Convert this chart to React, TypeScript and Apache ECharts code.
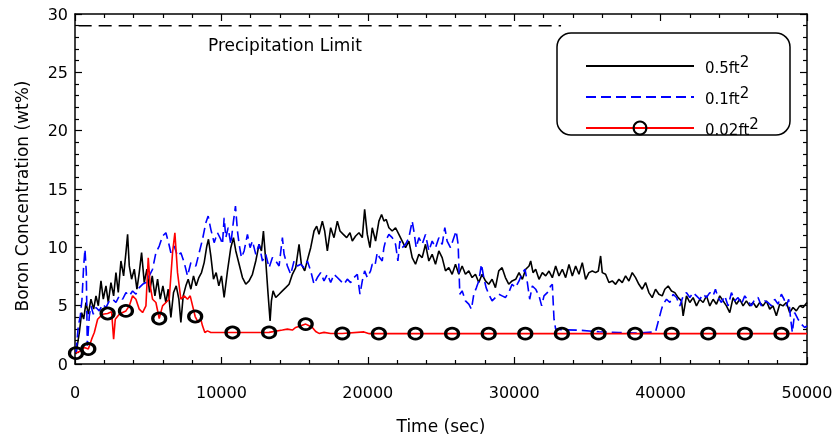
import { useEffect, useRef } from "react";
import * as echarts from "echarts";

// 0.5 ft^2 break — boron concentration (wt%) vs time (s)
const black05: [number, number][] = [
  [68,0.85],[296,2.7],[455,4.4],[591,3.85],[750,5.27],[910,4.27],[1091,5.56],[1273,4.7],[1433,5.84],[1592,4.99],
  [1774,7.12],[1933,5.56],[2115,6.7],[2274,5.27],[2456,6.98],[2638,5.84],[2797,7.84],[2956,6.13],[3138,8.83],[3320,7.55],
  [3479,9.55],[3593,11.11],[3707,8.41],[3866,7.27],[4048,8.13],[4230,6.41],[4389,7.84],[4548,9.55],[4730,6.98],[4912,8.13],
  [5094,6.13],[5276,7.55],[5458,5.84],[5640,7.27],[5821,5.56],[6003,6.7],[6208,5.27],[6367,6.41],[6549,4.0],[6731,6.13],
  [6913,6.7],[7095,5.56],[7231,3.56],[7390,5.84],[7572,6.7],[7732,7.27],[7914,6.41],[8095,7.55],[8277,6.7],[8459,7.41],
  [8641,7.84],[8823,8.69],[9005,10.12],[9118,10.69],[9278,9.27],[9460,7.27],[9642,7.84],[9824,6.7],[10006,7.55],[10187,5.7],
  [10415,7.98],[10642,9.97],[10824,10.83],[10983,9.69],[11211,8.55],[11438,7.41],[11666,6.84],[11893,7.12],[12120,7.69],[12348,8.83],
  [12575,10.26],[12734,9.69],[12871,11.4],[13030,8.83],[13189,5.98],[13326,3.7],[13416,5.41],[13530,6.27],[13712,5.7],[13940,5.98],
  [14167,6.27],[14394,6.55],[14622,6.84],[14849,7.69],[15077,8.26],[15304,10.26],[15463,8.55],[15690,7.98],[15918,9.12],[16100,9.97],
  [16327,11.4],[16509,11.82],[16668,11.11],[16895,12.25],[17055,11.4],[17237,9.69],[17464,11.68],[17692,10.83],[17919,12.25],[18101,11.4],
  [18328,11.11],[18556,10.83],[18783,11.25],[18942,10.54],[19170,10.97],[19397,11.25],[19624,10.83],[19784,13.25],[19966,11.11],[20148,9.97],
  [20304,11.68],[20531,10.54],[20759,12.25],[20941,12.82],[21100,12.25],[21259,12.39],[21441,11.68],[21668,11.4],[21896,11.68],[22123,11.11],
  [22350,10.54],[22578,9.97],[22805,10.54],[23033,9.12],[23260,8.55],[23488,9.4],[23715,9.12],[23942,10.26],[24170,8.83],[24397,9.4],
  [24625,8.55],[24852,9.69],[25079,9.12],[25307,7.98],[25534,8.26],[25762,7.69],[25989,8.55],[26216,7.69],[26444,8.4],[26671,7.69],
  [26899,7.98],[27126,7.41],[27353,7.69],[27581,6.98],[27808,7.69],[28036,7.12],[28263,6.84],[28490,7.27],[28718,6.55],[28945,7.98],
  [29173,8.26],[29400,7.41],[29627,6.84],[29855,7.12],[30103,7.26],[30331,7.83],[30558,7.26],[30786,8.12],[31013,8.4],[31127,8.83],
  [31286,7.83],[31468,8.12],[31695,7.26],[31923,7.83],[32150,7.55],[32377,7.97],[32605,7.4],[32832,8.4],[33060,7.55],[33287,8.12],
  [33514,7.4],[33742,8.54],[33969,7.55],[34197,8.4],[34424,7.69],[34651,8.69],[34879,7.26],[35106,7.83],[35334,7.97],[35561,7.83],
  [35743,7.97],[35902,9.26],[36016,7.83],[36243,7.69],[36471,6.98],[36698,7.12],[36926,6.83],[37153,7.26],[37380,6.98],[37608,7.55],
  [37835,7.12],[38063,7.83],[38290,7.4],[38517,6.83],[38745,6.41],[38972,6.98],[39199,6.12],[39427,5.69],[39654,6.41],[39882,5.98],
  [40109,5.84],[40290,6.41],[40517,6.69],[40745,6.26],[40972,6.12],[41199,5.69],[41427,5.41],[41541,4.13],[41768,5.84],[41995,5.27],
  [42223,5.69],[42450,4.98],[42678,5.55],[42905,5.27],[43132,5.84],[43360,4.98],[43587,5.55],[43815,5.12],[44042,5.84],[44269,5.41],
  [44497,4.98],[44724,4.41],[44952,5.69],[45179,5.12],[45406,5.55],[45634,4.98],[45861,5.41],[46089,4.98],[46316,5.27],[46543,4.84],
  [46771,5.27],[46998,4.98],[47226,5.41],[47453,4.7],[47680,4.98],[47908,4.13],[48135,5.12],[48363,4.98],[48590,5.27],[48817,4.41],
  [49045,4.84],[49272,4.55],[49500,4.98],[49727,4.84],[50000,5.27]
];

// 0.1 ft^2 break
const blue01: [number, number][] = [
  [68,0.99],[227,3.27],[364,4.13],[477,5.55],[591,8.4],[682,9.83],[773,7.83],[841,1.56],[978,4.13],[1091,4.98],
  [1250,4.27],[1433,4.84],[1660,4.55],[1887,5.12],[2115,4.84],[2342,5.41],[2570,5.55],[2797,5.27],[3024,5.84],[3252,5.55],
  [3479,6.12],[3707,5.84],[3934,6.26],[4161,5.98],[4389,6.55],[4616,6.83],[4844,6.98],[5071,7.55],[5298,8.12],[5526,9.54],
  [5753,10.11],[5981,10.97],[6208,11.25],[6390,10.4],[6549,9.54],[6776,10.11],[7004,9.26],[7231,9.54],[7459,8.69],[7686,7.55],
  [7914,8.69],[8254,8.4],[8482,9.54],[8709,10.68],[8937,12.1],[9096,12.68],[9278,11.54],[9505,10.4],[9733,11.25],[9960,10.68],
  [10074,10.26],[10187,12.54],[10301,10.83],[10460,11.68],[10642,10.26],[10824,12.25],[10961,13.53],[11097,11.4],[11211,10.26],[11370,9.12],
  [11552,9.69],[11779,11.11],[11961,9.97],[12120,10.54],[12348,9.4],[12575,10.26],[12803,8.83],[13030,9.4],[13257,8.26],[13485,9.12],
  [13712,8.83],[13940,8.4],[14167,10.83],[14281,9.4],[14508,8.4],[14735,7.69],[14963,8.83],[15190,8.4],[15418,8.55],[15645,8.26],
  [15872,8.83],[16100,7.98],[16327,6.84],[16555,7.41],[16782,7.83],[17009,7.12],[17237,7.69],[17464,6.98],[17692,7.69],[17919,7.41],
  [18146,7.12],[18374,6.84],[18601,7.27],[18829,6.98],[19056,7.41],[19283,7.69],[19465,5.98],[19624,7.12],[19784,7.98],[19966,7.41],
  [20190,7.98],[20304,8.55],[20486,8.4],[20645,9.54],[20804,9.12],[20986,8.83],[21100,9.97],[21213,10.54],[21441,11.11],[21668,10.83],
  [21896,10.26],[22055,8.83],[22191,10.54],[22350,9.97],[22578,10.26],[22805,10.83],[23033,12.25],[23146,11.4],[23306,9.97],[23488,10.83],
  [23715,10.26],[23942,11.11],[24170,9.69],[24397,10.54],[24625,9.97],[24852,10.83],[25079,10.26],[25261,11.68],[25420,10.54],[25648,9.97],
  [25876,10.83],[26035,11.4],[26171,10.26],[26285,5.98],[26444,6.27],[26671,5.41],[26899,5.13],[27081,4.7],[27240,5.98],[27422,6.55],
  [27581,7.12],[27763,8.55],[27922,7.41],[28081,6.55],[28263,5.98],[28490,5.41],[28718,5.7],[28945,5.98],[29173,5.84],[29400,5.7],
  [29627,6.13],[29855,6.84],[30082,6.55],[30331,7.12],[30558,7.83],[30740,8.12],[30899,6.98],[31058,5.55],[31240,6.69],[31468,6.41],
  [31695,5.84],[31877,4.98],[32035,5.84],[32263,6.12],[32490,6.69],[32605,6.83],[32719,3.84],[32832,2.99],[33287,2.93],[34424,2.9],
  [35788,2.76],[37153,2.7],[38517,2.65],[39654,2.76],[39882,3.84],[40064,4.7],[40176,5.13],[40404,5.55],[40631,5.27],[40858,5.98],
  [41086,5.7],[41313,4.98],[41541,5.84],[41768,6.12],[41995,5.7],[42223,6.12],[42450,5.84],[42678,5.55],[42905,5.98],[43132,5.7],
  [43360,6.12],[43587,5.84],[43746,6.41],[43928,5.7],[44156,5.27],[44383,5.84],[44611,4.98],[44838,6.12],[45065,5.41],[45293,5.7],
  [45520,5.13],[45748,5.84],[45975,5.41],[46202,4.98],[46430,5.55],[46657,5.7],[46885,4.98],[47112,5.41],[47339,5.27],[47567,4.98],
  [47794,5.55],[48021,5.13],[48249,5.98],[48431,5.55],[48590,4.98],[48749,5.55],[48885,3.84],[48999,2.7],[49158,4.41],[49386,3.84],
  [49613,3.42],[49840,3.13],[50000,3.27]
];

// 0.02 ft^2 break
const red002: [number, number][] = [
  [68,0.93],[409,1.13],[637,1.42],[910,1.28],[1137,2.13],[1319,2.7],[1546,3.84],[1887,4.27],[2228,4.33],[2501,4.47],
  [2638,2.13],[2751,3.84],[3024,4.27],[3252,4.41],[3479,4.55],[3707,4.98],[3934,5.84],[4161,5.55],[4389,4.7],[4616,4.41],
  [4844,4.98],[5003,9.11],[5139,6.69],[5298,5.55],[5526,5.27],[5753,3.9],[5981,4.98],[6208,5.27],[6435,5.55],[6663,9.54],
  [6822,11.25],[7004,7.83],[7231,5.55],[7459,5.84],[7686,5.55],[7868,5.84],[8209,4.07],[8414,3.56],[8595,3.84],[8709,3.27],
  [8868,2.7],[9050,2.84],[9278,2.7],[10756,2.7],[12000,2.7],[13257,2.71],[14167,2.91],[14508,2.99],[14849,2.91],[15077,3.13],
  [15418,3.28],[15758,3.42],[15986,3.28],[16213,3.13],[16441,2.79],[16668,2.62],[17009,2.71],[17464,2.62],[18258,2.62],[19738,2.75],
  [20100,2.6],[20758,2.6],[23258,2.6],[25758,2.6],[28258,2.6],[30758,2.6],[33258,2.6],[35758,2.6],[38258,2.6],[40758,2.6],
  [43258,2.6],[45758,2.6],[48258,2.6],[50000,2.6]
];
const red002Markers: number[] = [
  68, 910, 2228, 3479, 5753, 8209, 10756, 13257, 15758, 18258, 20758, 23258, 25758, 28258,
  30758, 33258, 35758, 38258, 40758, 43258, 45758, 48258
];

const seriesNames = ["0.5ft²", "0.1ft²", "0.02ft²"];
const precipitationLimit = 29;
const limitSpan: [number, number] = [250, 33200];
const limitLabel = "Precipitation Limit";
const xTitle = "Time (sec)";
const yTitle = "Boron Concentration (wt%)";

const FONT = "DejaVu Sans";

export default function App() {
  const ref = useRef<HTMLDivElement>(null);
  useEffect(() => {
    if (!ref.current) return;
    const chart = echarts.init(ref.current, undefined, { renderer: "svg" });
    const axisLine = { onZero: false, lineStyle: { color: "#000", width: 1.5 } };
    const tick = { inside: true, length: 7, lineStyle: { color: "#000", width: 1.2 } };
    const minor = { show: true, splitNumber: 5, length: 4, lineStyle: { color: "#000", width: 1.2 } };
    const redData = red002.map(([t, v]) => ({
      value: [t, v],
      symbol: red002Markers.includes(t) ? "circle" : "none",
    }));
    chart.setOption({
      animation: false,
      grid: { left: 75, right: 30, top: 14, bottom: 74 },
      xAxis: [
        {
          type: "value", min: 0, max: 50000, interval: 10000, position: "bottom",
          axisLine, axisTick: tick, minorTick: minor, splitLine: { show: false },
          axisLabel: { margin: 20, fontSize: 16, fontFamily: FONT, color: "#000", formatter: (v: number) => String(v) },
          name: xTitle, nameLocation: "middle", nameGap: 53,
          nameTextStyle: { fontSize: 17, fontFamily: FONT, color: "#000" },
        },
        {
          type: "value", min: 0, max: 50000, interval: 10000, position: "top",
          axisLine, axisTick: tick, minorTick: minor, splitLine: { show: false },
          axisLabel: { show: false },
        },
      ],
      yAxis: [
        {
          type: "value", min: 0, max: 30, interval: 5, position: "left",
          axisLine, axisTick: tick, minorTick: minor, splitLine: { show: false },
          axisLabel: { margin: 7, fontSize: 16, fontFamily: FONT, color: "#000" },
        },
        {
          type: "value", min: 0, max: 30, interval: 5, position: "right",
          axisLine, axisTick: tick, minorTick: minor, splitLine: { show: false },
          axisLabel: { show: false },
        },
      ],
      legend: {
        data: [
          { name: seriesNames[0], itemStyle: { opacity: 0 } },
          { name: seriesNames[1], itemStyle: { opacity: 0 } },
          { name: seriesNames[2] },
        ],
        orient: "vertical",
        left: 585,
        top: 54,
        padding: 0,
        itemWidth: 108,
        itemHeight: 16,
        itemGap: 10,
        selectedMode: false,
        z: 10,
        formatter: (n: string) => n.replace("²", "{s|2}"),
        textStyle: {
          fontFamily: FONT, fontSize: 15, color: "#000", padding: [3, 0, 0, 6],
          rich: { s: { fontFamily: FONT, fontSize: 15, color: "#000", padding: [0, 0, 12, 0] } },
        },
      },
      graphic: [
        {
          type: "rect", z: 5,
          shape: { x: 557, y: 33, width: 233, height: 102, r: 14 },
          style: { fill: "#fff", stroke: "#000", lineWidth: 1.5 },
        },
        {
          type: "text", x: 208, y: 45, z: 5,
          style: { text: limitLabel, font: `17px "${FONT}"`, fill: "#000", align: "left", verticalAlign: "middle" },
        },
        {
          type: "text", x: 22, y: 196, rotation: Math.PI / 2, z: 5,
          style: { text: yTitle, font: `17px "${FONT}"`, fill: "#000", align: "center", verticalAlign: "middle" },
        },
      ],
      series: [
        {
          name: seriesNames[0], type: "line", data: black05, symbol: "none",
          lineStyle: { color: "#000", width: 1.6 }, itemStyle: { color: "#000" },
        },
        {
          name: seriesNames[1], type: "line", data: blue01, symbol: "none",
          lineStyle: { color: "#0000ff", width: 1.6, type: [10, 5] }, itemStyle: { color: "#0000ff" },
        },
        {
          name: seriesNames[2], type: "line", data: redData, symbol: "circle", symbolSize: [13, 11],
          showSymbol: true, showAllSymbol: true,
          lineStyle: { color: "#ff0000", width: 1.6 },
          itemStyle: { color: "rgba(255,255,255,0)", borderColor: "#000", borderWidth: 3 },
        },
        {
          name: "limit", type: "line", silent: true, symbol: "none",
          data: [[limitSpan[0], precipitationLimit], [limitSpan[1], precipitationLimit]],
          lineStyle: { color: "#000", width: 1.5, type: [13, 7] },
        },
      ],
    });
    return () => chart.dispose();
  }, []);
  return <div ref={ref} style={{ position: "fixed", left: 0, top: 0, width: 837, height: 439 }} />;
}
